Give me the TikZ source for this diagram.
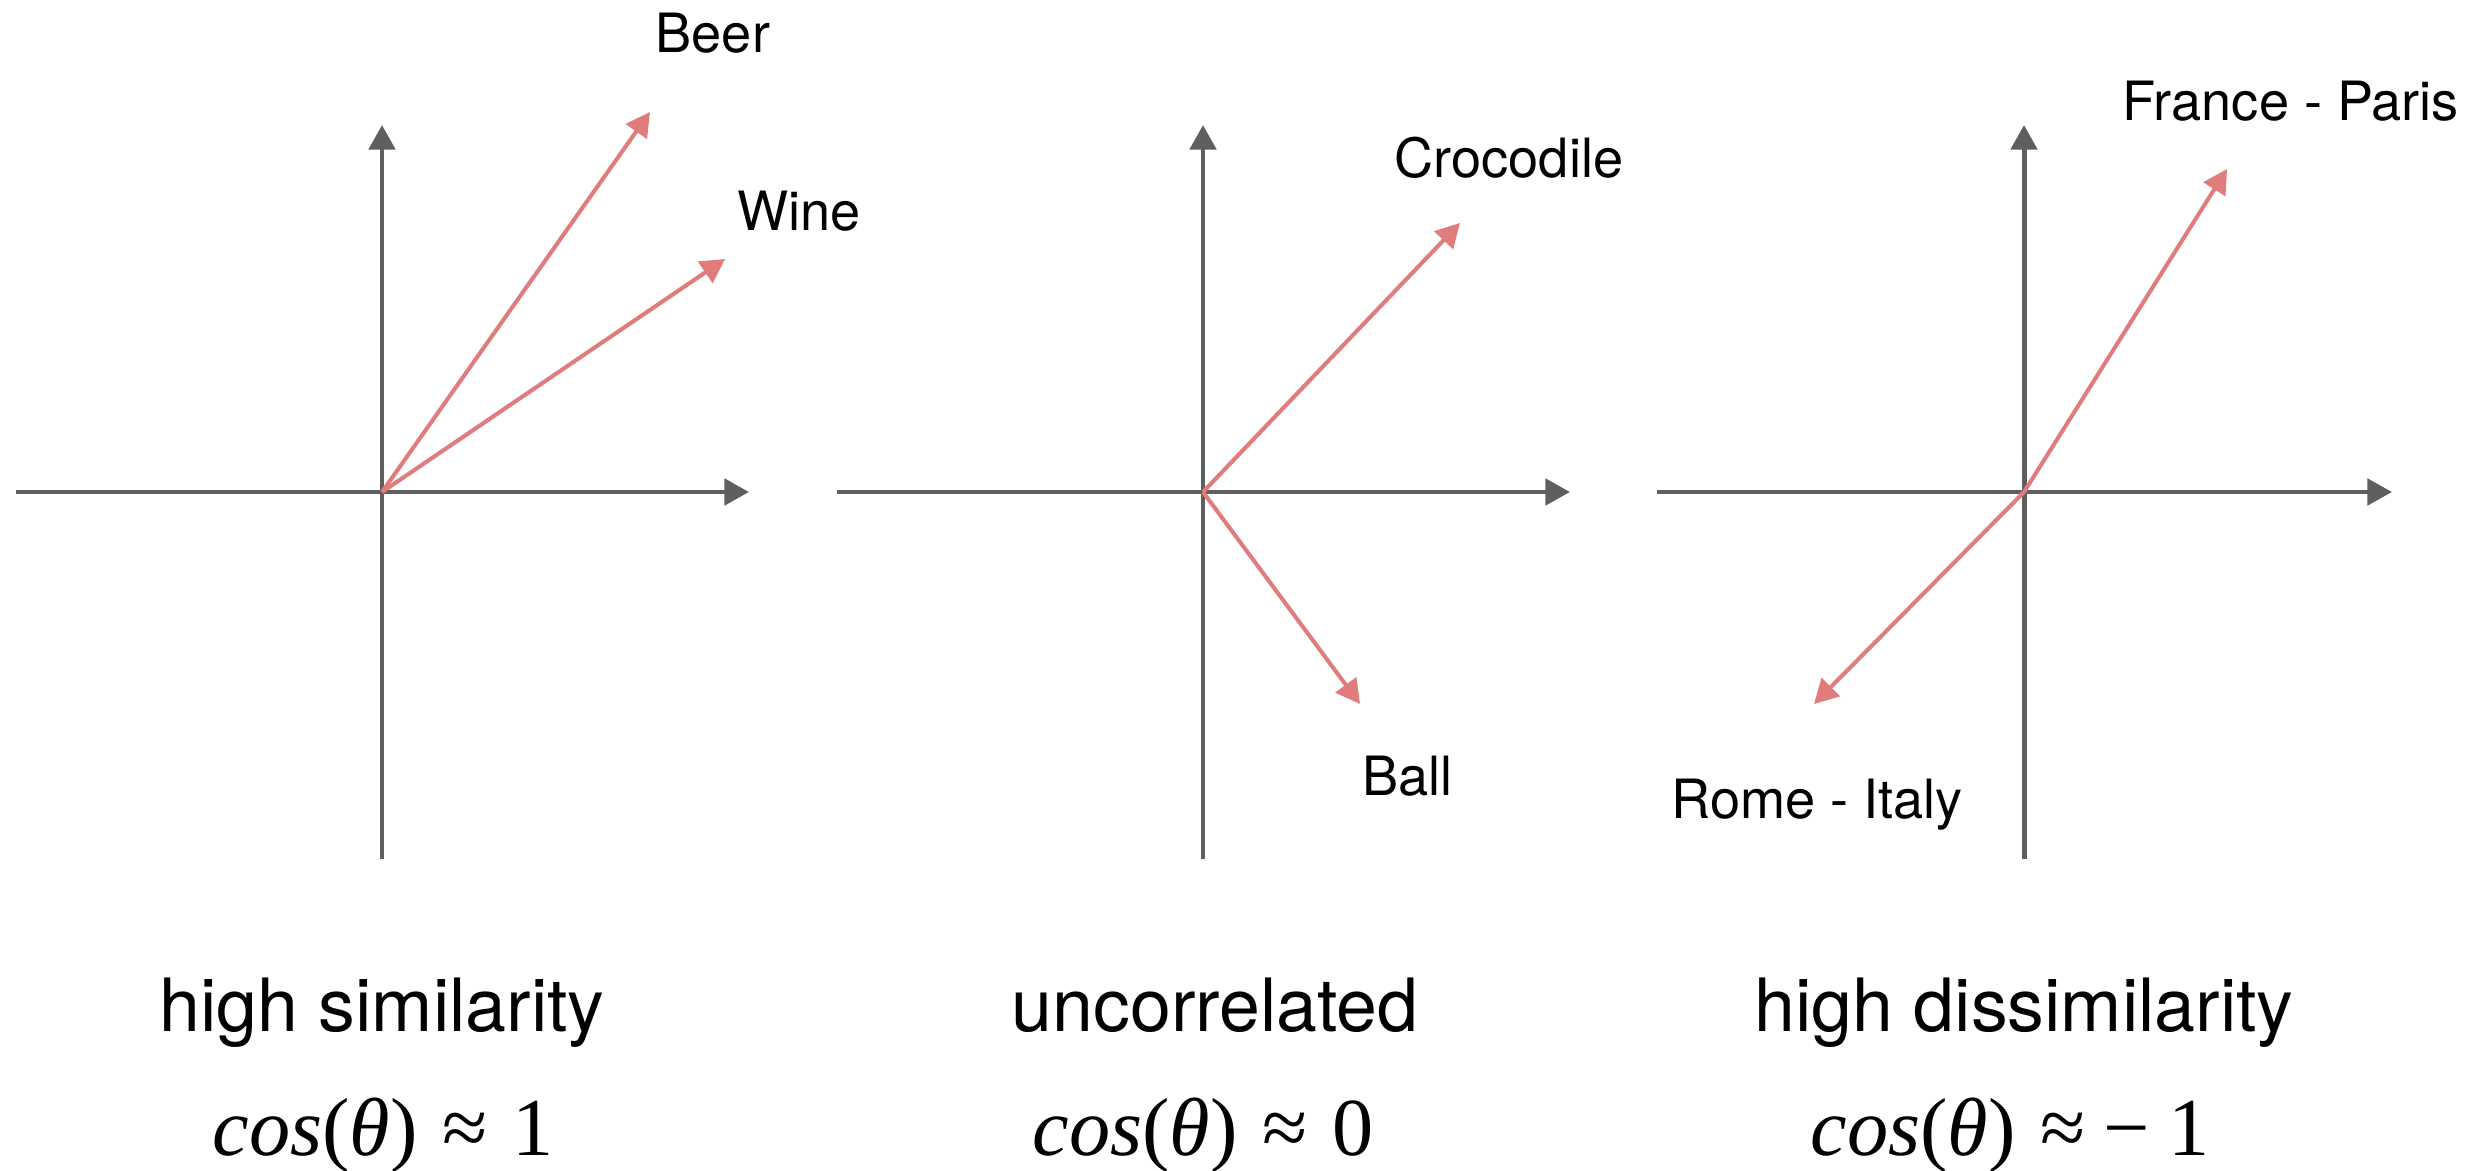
\documentclass[tikz,border=0pt]{standalone}
\usepackage{fontspec}
\setmainfont{TeX Gyre Heros}
\newfontfamily\formulafont{Liberation Serif}
\usetikzlibrary{arrows.meta}
\definecolor{axisgray}{RGB}{95,95,95}
\definecolor{vecred}{RGB}{224,124,124}
\tikzset{
  axisline/.style={draw=axisgray, line width=1.4pt, -{Triangle[length=7pt,width=7.4pt]}},
  axisplain/.style={draw=axisgray, line width=1.4pt},
  vecline/.style={draw=vecred, line width=1.15pt, line join=round, -{Triangle[length=6.8pt,width=7.2pt]}},
  wordlabel/.style={inner sep=0pt, anchor=base west, font=\fontsize{15.4}{18}\selectfont},
  caption/.style={inner sep=0pt, anchor=base, font=\fontsize{20.9}{25}\selectfont},
  formula/.style={inner sep=0pt, anchor=base, font=\formulafont\fontsize{23.4}{28}\selectfont}
}
\begin{document}
\begin{tikzpicture}[x=0.01cm, y=-0.01cm]
\useasboundingbox (0,0) rectangle (2486,1170);
\fill[white] (0,0) rectangle (2486,1170);

% ---------- panel 1 ----------
\coordinate (o1) at (382,492);
\coordinate (l1) at (16,492);
\coordinate (r1) at (749,492);
\coordinate (t1) at (382,125);
\coordinate (b1) at (382,859);
\draw[axisline] (l1) -- (r1);
\draw[axisplain] (b1) -- (o1);
\draw[axisline] (o1) -- (t1);
\coordinate (beer) at (650,112);
\coordinate (wine) at (725,259);
\draw[vecline] (o1) -- (beer);
\draw[vecline] (o1) -- (wine);
\node[wordlabel] (beerlbl) at (655,53) {Beer};
\node[wordlabel] (winelbl) at (737,230) {Wine};

% ---------- panel 2 ----------
\coordinate (o2) at (1203,492);
\coordinate (l2) at (837,492);
\coordinate (r2) at (1570,492);
\coordinate (t2) at (1203,125);
\coordinate (b2) at (1203,859);
\draw[axisline] (l2) -- (r2);
\draw[axisplain] (b2) -- (o2);
\draw[axisline] (o2) -- (t2);
\coordinate (croc) at (1460,223);
\coordinate (ball) at (1360,704);
\draw[vecline] (o2) -- (croc);
\draw[vecline] (o2) -- (ball);
\node[wordlabel] (croclbl) at (1394,177) {Crocodile};
\node[wordlabel] (balllbl) at (1362,795) {Ball};

% ---------- panel 3 ----------
\coordinate (o3) at (2024,492);
\coordinate (l3) at (1657,492);
\coordinate (r3) at (2392,492);
\coordinate (t3) at (2024,125);
\coordinate (b3) at (2024,859);
\draw[axisline] (l3) -- (r3);
\draw[axisplain] (b3) -- (o3);
\draw[axisline] (o3) -- (t3);
\coordinate (paris) at (2227,169);
\coordinate (rome) at (1814,704);
\draw[vecline] (o3) -- (paris);
\draw[vecline] (o3) -- (rome);
\node[wordlabel] (parislbl) at (2122,121) {France - Paris};
\node[wordlabel] (romelbl) at (1671,818) {Rome - Italy};

% ---------- captions ----------
\node[caption] (cap1) at (382,1031) {high similarity};
\node[caption] (cap2) at (1215,1031) {uncorrelated};
\node[caption] (cap3) at (2024,1031) {high dissimilarity};
\node[formula] (f1) at (383,1155) {\textit{cos}(\textit{θ})\hspace{0.3em}≈\hspace{0.3em}1};
\node[formula] (f2) at (1203,1155) {\textit{cos}(\textit{θ})\hspace{0.3em}≈\hspace{0.3em}0};
\node[formula] (f3) at (2010,1155) {\textit{cos}(\textit{θ})\hspace{0.3em}≈\hspace{0.22em}−\hspace{0.22em}1};
\end{tikzpicture}
\end{document}
